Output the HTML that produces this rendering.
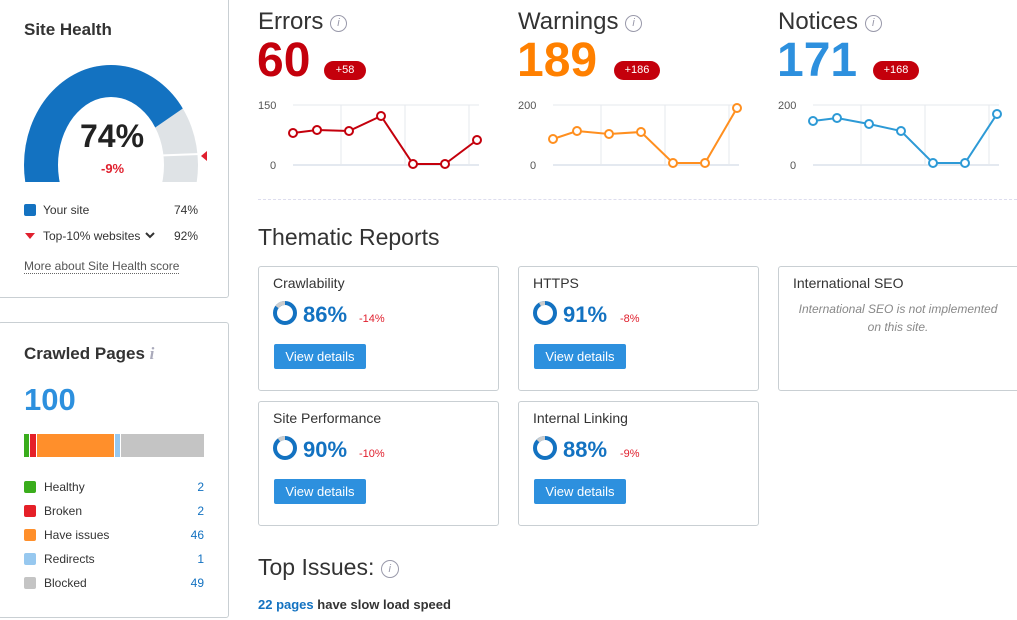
<!DOCTYPE html>
<html><head><meta charset="utf-8"><style>
body{margin:0;width:1017px;height:620px;overflow:hidden;background:#fff;font-family:"Liberation Sans",sans-serif;color:#333;position:relative}
.a{position:absolute;white-space:nowrap}
.card{position:absolute;border:1px solid #c9cfd3;border-radius:3px;background:#fff}
.btn{position:absolute;background:#2d90de;color:#fff;font-size:13px;border-radius:2px;width:92px;height:25px;line-height:25px;text-align:center}
.lg{position:absolute;font-size:12px;color:#333}
.sq{position:absolute;width:12px;height:12px;border-radius:2px}
</style></head><body>
<div class="card" style="left:-2px;top:-5px;width:229px;height:301px"></div>
<div class="card" style="left:-2px;top:322px;width:229px;height:294px"></div>
<div class="a" style="left:24px;top:20px;font-size:17px;font-weight:bold;color:#333">Site Health</div>
<svg class="a" style="left:0;top:0" width="228" height="300">
<defs>
<clipPath id="c"><rect x="0" y="0" width="228" height="182"/></clipPath>
<clipPath id="o"><ellipse cx="111" cy="165" rx="87" ry="100"/></clipPath>
</defs>
<g clip-path="url(#c)">
<ellipse cx="111" cy="165" rx="87" ry="100" fill="#dfe3e6"/>
<polygon clip-path="url(#o)" points="111,158 333,5 333,-200 -200,-200 -200,300 111,300" fill="#1372c1"/>
<ellipse cx="111" cy="165" rx="53" ry="68" fill="#fff"/>
<line x1="160" y1="155.5" x2="200" y2="154" stroke="#fff" stroke-width="2"/>
</g>
<polygon points="201,156 207,151 207,161" fill="#e0202e"/>
<polygon points="25,233 35,233 30,239" fill="#e0202e"/>
<polyline points="146,233 150,237 154,233" fill="none" stroke="#333" stroke-width="2"/>
</svg>
<div class="a" style="left:80px;top:118px;font-size:32px;font-weight:bold;color:#222">74%</div>
<div class="a" style="left:101px;top:161px;font-size:13px;font-weight:bold;color:#e0202e">-9%</div>
<div class="sq" style="left:24px;top:204px;background:#1372c1"></div>
<div class="lg" style="left:43px;top:203px">Your site</div>
<div class="lg" style="left:174px;top:203px">74%</div>
<div class="lg" style="left:43px;top:229px">Top-10% websites</div>
<div class="lg" style="left:174px;top:229px">92%</div>
<div class="lg" style="left:24px;top:259px;color:#555;border-bottom:1px dotted #666">More about Site Health score</div>

<div class="a" style="left:24px;top:344px;font-size:17px;font-weight:bold;color:#333">Crawled Pages <span style="color:#aab;font-style:italic;font-family:'Liberation Serif',serif">i</span></div>
<div class="a" style="left:24px;top:382px;font-size:31px;font-weight:bold;color:#2d90de">100</div>
<div class="a" style="left:24px;top:434px;width:5px;height:23px;background:#3aad1c"></div>
<div class="a" style="left:30px;top:434px;width:6px;height:23px;background:#e52028"></div>
<div class="a" style="left:37px;top:434px;width:77px;height:23px;background:#ff8f2b"></div>
<div class="a" style="left:115px;top:434px;width:5px;height:23px;background:#97c8ef"></div>
<div class="a" style="left:121px;top:434px;width:83px;height:23px;background:#c4c4c4"></div>
<div class="sq" style="left:24px;top:481px;background:#3aad1c"></div><div class="lg" style="left:44px;top:480px">Healthy</div><div class="lg" style="left:190px;top:480px;color:#1372c1;width:14px;text-align:right">2</div>
<div class="sq" style="left:24px;top:505px;background:#e52028"></div><div class="lg" style="left:44px;top:504px">Broken</div><div class="lg" style="left:190px;top:504px;color:#1372c1;width:14px;text-align:right">2</div>
<div class="sq" style="left:24px;top:529px;background:#ff8f2b"></div><div class="lg" style="left:44px;top:528px">Have issues</div><div class="lg" style="left:184px;top:528px;color:#1372c1;width:20px;text-align:right">46</div>
<div class="sq" style="left:24px;top:553px;background:#97c8ef"></div><div class="lg" style="left:44px;top:552px">Redirects</div><div class="lg" style="left:190px;top:552px;color:#1372c1;width:14px;text-align:right">1</div>
<div class="sq" style="left:24px;top:577px;background:#c4c4c4"></div><div class="lg" style="left:44px;top:576px">Blocked</div><div class="lg" style="left:184px;top:576px;color:#1372c1;width:20px;text-align:right">49</div>

<div class="a" style="left:258px;top:8px;font-size:24px;color:#333">Errors <span style="display:inline-block;width:15px;height:15px;border:1px solid #99a;border-radius:50%;font-size:11px;text-align:center;line-height:15px;color:#99a;font-style:italic;vertical-align:3px">i</span></div>
<div class="a" style="left:257px;top:33px;font-size:48px;font-weight:bold;color:#c4000c">60</div>
<div class="a" style="left:324px;top:61px;width:42px;height:19px;border-radius:10px;background:#c4000c;color:#fff;font-size:11px;text-align:center;line-height:19px">+58</div>
<div class="a" style="left:518px;top:8px;font-size:24px;color:#333">Warnings <span style="display:inline-block;width:15px;height:15px;border:1px solid #99a;border-radius:50%;font-size:11px;text-align:center;line-height:15px;color:#99a;font-style:italic;vertical-align:3px">i</span></div>
<div class="a" style="left:517px;top:33px;font-size:48px;font-weight:bold;color:#ff8000">189</div>
<div class="a" style="left:614px;top:61px;width:46px;height:19px;border-radius:10px;background:#c4000c;color:#fff;font-size:11px;text-align:center;line-height:19px">+186</div>
<div class="a" style="left:778px;top:8px;font-size:24px;color:#333">Notices <span style="display:inline-block;width:15px;height:15px;border:1px solid #99a;border-radius:50%;font-size:11px;text-align:center;line-height:15px;color:#99a;font-style:italic;vertical-align:3px">i</span></div>
<div class="a" style="left:777px;top:33px;font-size:48px;font-weight:bold;color:#2d90de">171</div>
<div class="a" style="left:873px;top:61px;width:46px;height:19px;border-radius:10px;background:#c4000c;color:#fff;font-size:11px;text-align:center;line-height:19px">+168</div>

<svg class="a" style="left:0;top:0" width="1017" height="200" font-family="Liberation Sans" font-size="11" fill="#555">
<line x1="293" y1="105" x2="479" y2="105" stroke="#e6e9ee"/><line x1="293" y1="165" x2="479" y2="165" stroke="#c9d3e0"/>
<line x1="341" y1="105" x2="341" y2="165" stroke="#e6e9ee"/><line x1="405" y1="105" x2="405" y2="165" stroke="#e6e9ee"/><line x1="469" y1="105" x2="469" y2="165" stroke="#e6e9ee"/>
<text x="258" y="109">150</text><text x="270" y="169">0</text>
<polyline points="293,133 317,130 349,131 381,116 413,164 445,164 477,140" fill="none" stroke="#c4000c" stroke-width="2"/>
<g fill="#fff" stroke="#c4000c" stroke-width="2"><circle cx="293" cy="133" r="4"/><circle cx="317" cy="130" r="4"/><circle cx="349" cy="131" r="4"/><circle cx="381" cy="116" r="4"/><circle cx="413" cy="164" r="4"/><circle cx="445" cy="164" r="4"/><circle cx="477" cy="140" r="4"/></g>
<line x1="553" y1="105" x2="739" y2="105" stroke="#e6e9ee"/><line x1="553" y1="165" x2="739" y2="165" stroke="#c9d3e0"/>
<line x1="601" y1="105" x2="601" y2="165" stroke="#e6e9ee"/><line x1="665" y1="105" x2="665" y2="165" stroke="#e6e9ee"/><line x1="729" y1="105" x2="729" y2="165" stroke="#e6e9ee"/>
<text x="518" y="109">200</text><text x="530" y="169">0</text>
<polyline points="553,139 577,131 609,134 641,132 673,163 705,163 737,108" fill="none" stroke="#ff8f1f" stroke-width="2"/>
<g fill="#fff" stroke="#ff8f1f" stroke-width="2"><circle cx="553" cy="139" r="4"/><circle cx="577" cy="131" r="4"/><circle cx="609" cy="134" r="4"/><circle cx="641" cy="132" r="4"/><circle cx="673" cy="163" r="4"/><circle cx="705" cy="163" r="4"/><circle cx="737" cy="108" r="4"/></g>
<line x1="813" y1="105" x2="999" y2="105" stroke="#e6e9ee"/><line x1="813" y1="165" x2="999" y2="165" stroke="#c9d3e0"/>
<line x1="861" y1="105" x2="861" y2="165" stroke="#e6e9ee"/><line x1="925" y1="105" x2="925" y2="165" stroke="#e6e9ee"/><line x1="989" y1="105" x2="989" y2="165" stroke="#e6e9ee"/>
<text x="778" y="109">200</text><text x="790" y="169">0</text>
<polyline points="813,121 837,118 869,124 901,131 933,163 965,163 997,114" fill="none" stroke="#2d9ad6" stroke-width="2"/>
<g fill="#fff" stroke="#2d9ad6" stroke-width="2"><circle cx="813" cy="121" r="4"/><circle cx="837" cy="118" r="4"/><circle cx="869" cy="124" r="4"/><circle cx="901" cy="131" r="4"/><circle cx="933" cy="163" r="4"/><circle cx="965" cy="163" r="4"/><circle cx="997" cy="114" r="4"/></g>
</svg>
<div class="a" style="left:258px;top:199px;width:759px;border-top:1px dashed #dde"></div>

<div class="a" style="left:258px;top:224px;font-size:23px;color:#333">Thematic Reports</div>
<div class="card" style="left:258px;top:266px;width:239px;height:123px"></div>
<div class="card" style="left:518px;top:266px;width:239px;height:123px"></div>
<div class="card" style="left:778px;top:266px;width:260px;height:123px"></div>
<div class="card" style="left:258px;top:401px;width:239px;height:123px"></div>
<div class="card" style="left:518px;top:401px;width:239px;height:123px"></div>

<svg class="a" style="left:0;top:0" width="1017" height="620">
<g fill="none" stroke-width="4">
<circle cx="285" cy="313" r="10" stroke="#1372c1"/><path d="M285 303 A10 10 0 0 0 277 307" stroke="#ccc"/>
<circle cx="545" cy="313" r="10" stroke="#1372c1"/><path d="M545 303 A10 10 0 0 0 540 304.5" stroke="#ccc"/>
<circle cx="285" cy="448" r="10" stroke="#1372c1"/><path d="M285 438 A10 10 0 0 0 279 440" stroke="#ccc"/>
<circle cx="545" cy="448" r="10" stroke="#1372c1"/><path d="M545 438 A10 10 0 0 0 538 441" stroke="#ccc"/>
</g></svg>
<div class="a" style="left:273px;top:275px;font-size:14px">Crawlability</div>
<div class="a" style="left:303px;top:302px;font-size:22px;font-weight:bold;color:#1372c1">86%</div>
<div class="a" style="left:359px;top:313px;font-size:11px;color:#e0202e">-14%</div>
<div class="btn" style="left:274px;top:344px">View details</div>
<div class="a" style="left:533px;top:275px;font-size:14px">HTTPS</div>
<div class="a" style="left:563px;top:302px;font-size:22px;font-weight:bold;color:#1372c1">91%</div>
<div class="a" style="left:620px;top:313px;font-size:11px;color:#e0202e">-8%</div>
<div class="btn" style="left:534px;top:344px">View details</div>
<div class="a" style="left:793px;top:275px;font-size:14px">International SEO</div>
<div class="a" style="left:778px;top:300px;width:240px;text-align:center;font-size:12px;font-style:italic;color:#888;white-space:normal;line-height:18px">International SEO is not implemented<br>on this site.</div>
<div class="a" style="left:273px;top:410px;font-size:14px">Site Performance</div>
<div class="a" style="left:303px;top:437px;font-size:22px;font-weight:bold;color:#1372c1">90%</div>
<div class="a" style="left:359px;top:448px;font-size:11px;color:#e0202e">-10%</div>
<div class="btn" style="left:274px;top:479px">View details</div>
<div class="a" style="left:533px;top:410px;font-size:14px">Internal Linking</div>
<div class="a" style="left:563px;top:437px;font-size:22px;font-weight:bold;color:#1372c1">88%</div>
<div class="a" style="left:620px;top:448px;font-size:11px;color:#e0202e">-9%</div>
<div class="btn" style="left:534px;top:479px">View details</div>

<div class="a" style="left:258px;top:554px;font-size:23px;color:#333">Top Issues: <span style="display:inline-block;width:16px;height:16px;border:1px solid #99a;border-radius:50%;font-size:11px;text-align:center;line-height:16px;color:#99a;font-style:italic;vertical-align:3px">i</span></div>
<div class="a" style="left:258px;top:597px;font-size:13px;font-weight:bold;color:#333"><span style="color:#1372c1">22 pages</span> have slow load speed</div>
</body></html>
